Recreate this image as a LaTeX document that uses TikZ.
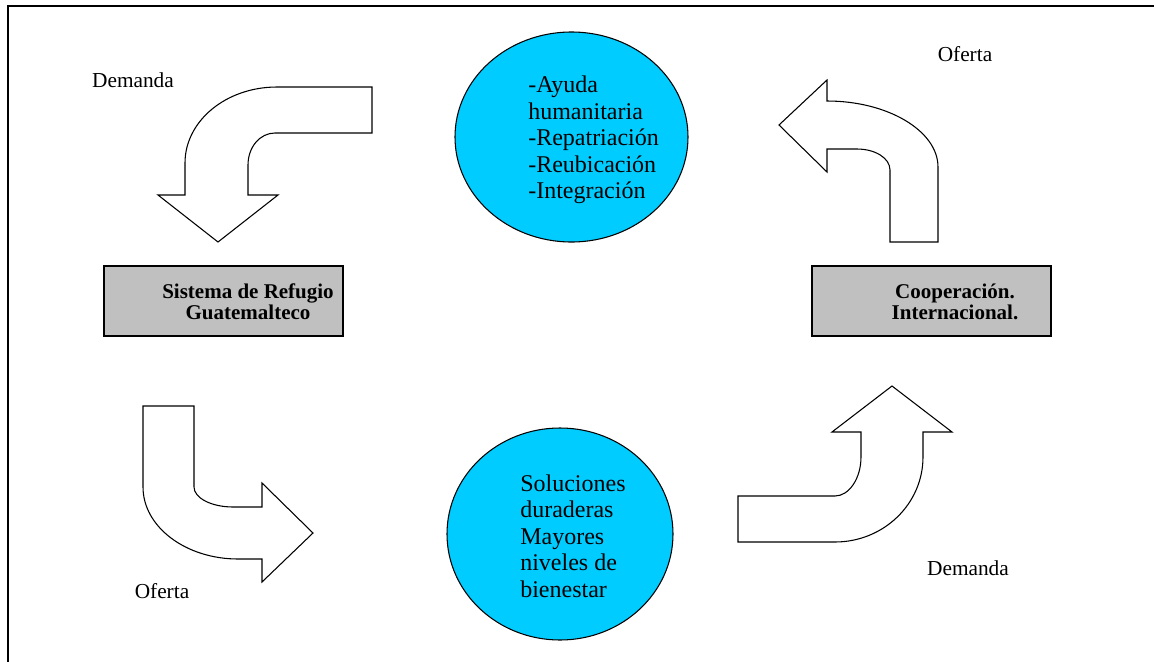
\documentclass[tikz,border=0pt]{standalone}
\usepackage{fontspec}
\setmainfont{Liberation Serif}
\newfontfamily\tiempos{Liberation Serif}
\usetikzlibrary{shapes.geometric}

\definecolor{celeste}{HTML}{00CCFF}
\definecolor{gris}{HTML}{C0C0C0}

\begin{document}
\begin{tikzpicture}[
    x=0.75pt, y=-0.75pt,
    circulo/.style={draw, ellipse, fill=celeste, line width=0.8pt, inner sep=0pt, outer sep=0pt},
    caja/.style={draw, rectangle, fill=gris, line width=1.5pt, minimum width=179.25pt, minimum height=52.5pt, inner sep=0pt, outer sep=0pt},
    cajatexto/.style={align=center, inner sep=0pt, font=\tiempos\bfseries\fontsize{15.75}{15.75}\selectfont},
    circtexto/.style={anchor=west, align=left, inner sep=0pt, font=\tiempos\fontsize{18}{19.9}\selectfont},
    etiqueta/.style={inner sep=0pt, font=\tiempos\fontsize{16}{18}\selectfont},
    flecha/.style={draw, fill=white, line width=0.8pt, line join=miter},
    marco/.style={line width=1.5pt}
]
\useasboundingbox (0,0) rectangle (1154,661);

% Marco
\draw[marco] (8,662) -- (8,6) -- (1155,6);

% Circulos
\node[circulo, minimum width=174.75pt, minimum height=157.5pt] (ayuda) at (571.5,137) {};
\node[circtexto] (ayudatxt) at (528,140) {-Ayuda\\humanitaria\\-Repatriación\\-Reubicación\\-Integración};
\node[circulo, minimum width=169.5pt, minimum height=159pt] (soluciones) at (560,534) {};
\node[circtexto] (solucionestxt) at (520,536) {Soluciones\\duraderas\\Mayores\\niveles de\\bienestar};

% Cajas
\node[caja] (refugio) at (223.5,301) {};
\node[cajatexto] (refugiotxt) at (248,302) {Sistema de Refugio\\Guatemalteco};
\node[caja] (cooperacion) at (931.5,301) {};
\node[cajatexto] (cooperaciontxt) at (955,302) {Cooperación.\\Internacional.};

% Flechas curvas
\draw[flecha] (372,87) -- (277,87) .. controls (226,87) and (185,121) .. (185,163)
    -- (185,195) -- (158,195) -- (218,242) -- (278,195) -- (248,195) -- (248,165)
    .. controls (248,147) and (260,133) .. (275,133) -- (372,133) -- cycle;
\draw[flecha] (779,125) -- (827,80) -- (827,101) .. controls (888,101) and (938,131) .. (938,167)
    -- (938,242) -- (890,242) -- (890,170) .. controls (890,158) and (875,149) .. (857,149)
    -- (827,149) -- (827,172) -- cycle;
\draw[flecha] (143,406) -- (143,487) .. controls (143,527) and (186,559) .. (238,559)
    -- (262,559) -- (262,582) -- (313,533) -- (262,483) -- (262,507) -- (233,507)
    .. controls (211.5,507) and (194,498) .. (194,487) -- (194,406) -- cycle;
\draw[flecha] (738,496) -- (835,496) .. controls (849,496) and (861,478.5) .. (861,457)
    -- (861,432) -- (832,432) -- (892,386) -- (952,432) -- (923,432) -- (923,457)
    .. controls (923,504) and (883.5,542) .. (835,542) -- (738,542) -- cycle;

% Etiquetas
\node[etiqueta] (demanda1) at (133,80.5) {Demanda};
\node[etiqueta] (oferta1) at (965,54.5) {Oferta};
\node[etiqueta] (oferta2) at (162,591) {Oferta};
\node[etiqueta] (demanda2) at (968,568) {Demanda};

\end{tikzpicture}
\end{document}
